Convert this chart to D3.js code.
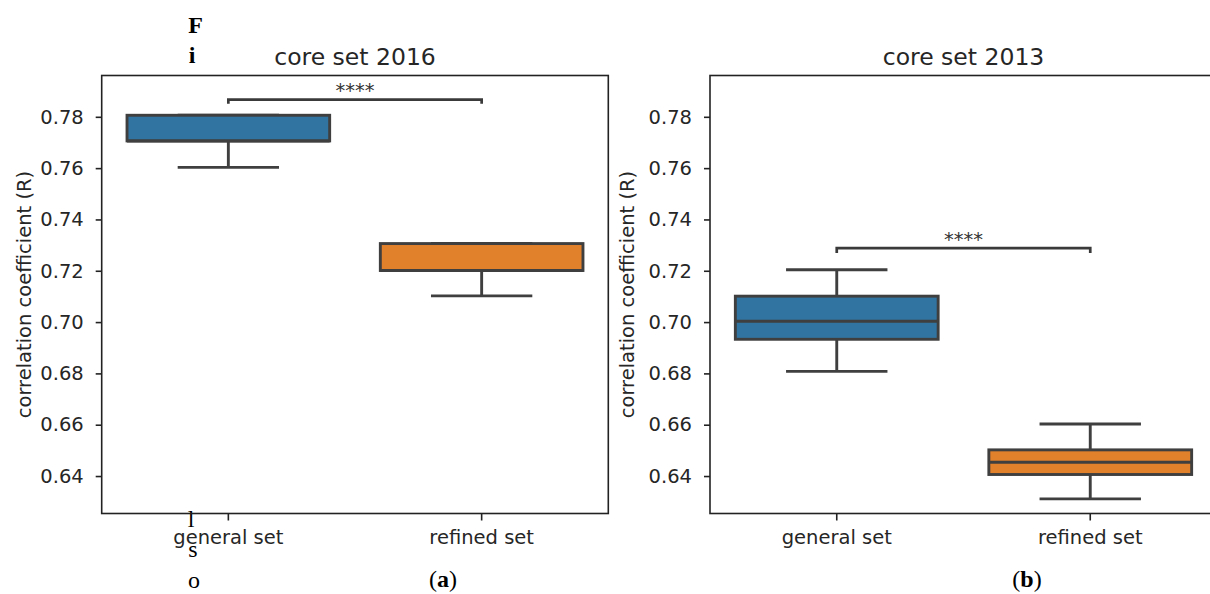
<!DOCTYPE html>
<html><head><meta charset="utf-8">
<script src="https://cdn.jsdelivr.net/npm/d3@7"></script>
<style>html,body{margin:0;padding:0;background:#fff;} svg{display:block;}</style>
</head><body>
<svg id="chart" width="1210" height="594"></svg>
<script>
// ---------- data ----------
const categories = ["general set", "refined set"];
const panelTitles = ["core set 2016", "core set 2013"];
const yTickValues = [0.64, 0.66, 0.68, 0.70, 0.72, 0.74, 0.76, 0.78];
const yDomain = [0.6254, 0.7961];
// core set 2016: [general set, refined set]
const low2016    = [0.7603, 0.7102];
const q1_2016    = [0.7706, 0.7201];
const median2016 = [0.7706, 0.7201];
const q3_2016    = [0.7806, 0.7306];
const high2016   = [0.7806, 0.7306];
// core set 2013: [general set, refined set]
const low2013    = [0.6808, 0.6311];
const q1_2013    = [0.6933, 0.6406];
const median2013 = [0.7003, 0.6454];
const q3_2013    = [0.7101, 0.6502];
const high2013   = [0.7204, 0.6603];
// significance annotations
const sigLabels   = ["****", "****"];
const bracketTop  = [0.7867, 0.7288];
const bracketFoot = [0.7851, 0.7269];
const panelLetters = ["a", "b"];
const boxColors = ["#3274a1", "#e1812c"];

// ---------- layout ----------
const svg = d3.select("#chart");
const plotTop = 75.5, plotBottom = 513.5;
const panels = [
  {L: 101.7, R: 608.3, ylabX: 30.5, letterX: 443,
   stats: {low: low2016, q1: q1_2016, med: median2016, q3: q3_2016, high: high2016}},
  {L: 710, R: 1217, ylabX: 634, letterX: 1027,
   stats: {low: low2013, q1: q1_2013, med: median2013, q3: q3_2013, high: high2013}}
];
const edge = "#3f3f3f", lw = 2.9;
const sans = "DejaVu Sans", serif = "Liberation Serif";

// stray characters of surrounding page text
const stray = [
  {t: "F", x: 195.5, y: 33, w: "bold"},
  {t: "i", x: 192, y: 63, w: "bold"},
  {t: "l", x: 191, y: 527, w: "normal"},
  {t: "s", x: 193, y: 557, w: "normal"},
  {t: "o", x: 194, y: 588, w: "normal"}
];
svg.selectAll("text.stray").data(stray).join("text").attr("class", "stray")
  .attr("x", d => d.x).attr("y", d => d.y).attr("text-anchor", "middle")
  .attr("font-family", serif).attr("font-size", 24).attr("font-weight", d => d.w)
  .attr("fill", "#000").text(d => d.t);

panels.forEach((p, pi) => {
  const g = svg.append("g");
  const x = d3.scaleBand().domain(categories).range([p.L, p.R]).paddingInner(0.2).paddingOuter(0.1);
  const y = d3.scaleLinear().domain(yDomain).range([plotBottom, plotTop]);
  const bw = x.bandwidth();
  const cx = c => x(c) + bw / 2;
  const s = p.stats;
  const rows = categories.map((c, i) => ({c, i, low: s.low[i], q1: s.q1[i], med: s.med[i], q3: s.q3[i], high: s.high[i]}));

  // whiskers
  g.selectAll("line.wlo").data(rows).join("line").attr("class", "wlo")
    .attr("x1", d => cx(d.c)).attr("x2", d => cx(d.c))
    .attr("y1", d => y(d.low)).attr("y2", d => y(d.q1))
    .attr("stroke", edge).attr("stroke-width", lw);
  g.selectAll("line.whi").data(rows).join("line").attr("class", "whi")
    .attr("x1", d => cx(d.c)).attr("x2", d => cx(d.c))
    .attr("y1", d => y(d.q3)).attr("y2", d => y(d.high))
    .attr("stroke", edge).attr("stroke-width", lw);
  // caps
  ["low", "high"].forEach(k => {
    g.selectAll("line.cap" + k).data(rows).join("line").attr("class", "cap" + k)
      .attr("x1", d => cx(d.c) - bw / 4).attr("x2", d => cx(d.c) + bw / 4)
      .attr("y1", d => y(d[k])).attr("y2", d => y(d[k]))
      .attr("stroke", edge).attr("stroke-width", lw);
  });
  // boxes
  g.selectAll("rect.box").data(rows).join("rect").attr("class", "box")
    .attr("x", d => x(d.c)).attr("width", bw)
    .attr("y", d => y(d.q3)).attr("height", d => y(d.q1) - y(d.q3))
    .attr("fill", d => boxColors[d.i]).attr("stroke", edge).attr("stroke-width", lw);
  // medians
  g.selectAll("line.med").data(rows).join("line").attr("class", "med")
    .attr("x1", d => x(d.c)).attr("x2", d => x(d.c) + bw)
    .attr("y1", d => y(d.med)).attr("y2", d => y(d.med))
    .attr("stroke", edge).attr("stroke-width", lw);

  // significance bracket
  const x1 = cx(categories[0]), x2 = cx(categories[1]);
  g.append("path")
    .attr("d", `M${x1},${y(bracketFoot[pi])}L${x1},${y(bracketTop[pi])}L${x2},${y(bracketTop[pi])}L${x2},${y(bracketFoot[pi])}`)
    .attr("fill", "none").attr("stroke", "#3a3a3a").attr("stroke-width", 2.7);
  g.append("text").attr("x", (x1 + x2) / 2).attr("y", y(bracketTop[pi]) - 2.5)
    .attr("text-anchor", "middle").attr("font-family", sans).attr("font-size", 19.5)
    .attr("fill", "#333").text(sigLabels[pi]);

  // axes
  const ya = g.append("g").attr("transform", `translate(${p.L},0)`)
    .call(d3.axisLeft(y).tickValues(yTickValues).tickFormat(d3.format(".2f")).tickSize(6).tickPadding(12));
  const xa = g.append("g").attr("transform", `translate(0,${plotBottom})`)
    .call(d3.axisBottom(x).tickSize(7).tickPadding(9.5));
  [ya, xa].forEach(a => {
    a.select(".domain").remove();
    a.attr("font-family", sans).attr("font-size", 19.5);
    a.selectAll(".tick line").attr("stroke", "#222").attr("stroke-width", 1.6);
    a.selectAll(".tick text").attr("fill", "#262626");
  });

  // frame
  g.append("rect").attr("x", p.L).attr("y", plotTop).attr("width", p.R - p.L).attr("height", plotBottom - plotTop)
    .attr("fill", "none").attr("stroke", "#222").attr("stroke-width", 1.6);

  // title
  g.append("text").attr("x", (p.L + p.R) / 2).attr("y", 64.5).attr("text-anchor", "middle")
    .attr("font-family", sans).attr("font-size", 23.5).attr("fill", "#262626").text(panelTitles[pi]);
  // y label
  g.append("text").attr("transform", `translate(${p.ylabX},${(plotTop + plotBottom) / 2}) rotate(-90)`)
    .attr("text-anchor", "middle").attr("font-family", sans).attr("font-size", 19.5)
    .attr("fill", "#262626").text("correlation coefficient (R)");

  // panel letter
  const lt = svg.append("text").attr("x", p.letterX).attr("y", 587).attr("text-anchor", "middle")
    .attr("font-family", serif).attr("font-size", 24).attr("fill", "#000");
  lt.append("tspan").text("(");
  lt.append("tspan").attr("font-weight", "bold").text(panelLetters[pi]);
  lt.append("tspan").text(")");
});
</script>
</body></html>
